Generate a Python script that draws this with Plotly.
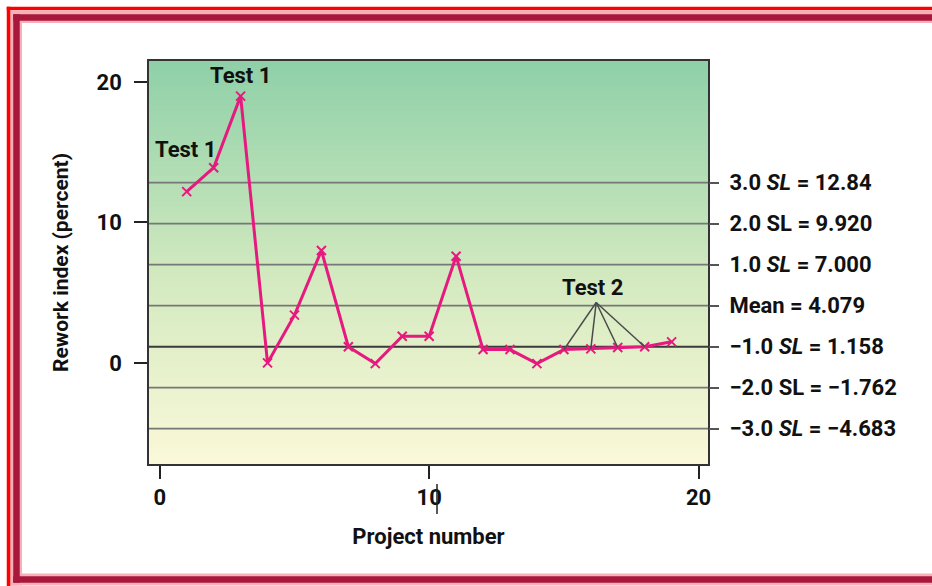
import plotly.graph_objects as go

# ---- data ----
projects = list(range(1, 20))
rework = [12.2, 13.9, 19.0, 0.0, 3.4, 8.0, 1.15, -0.05, 1.9, 1.9, 7.6,
          0.95, 0.95, -0.05, 0.95, 1.0, 1.1, 1.15, 1.5]
sl_values = [12.84, 9.920, 7.000, 4.079, 1.158, -1.762, -4.683]
sl_labels = ["3.0 <i>SL</i> = 12.84", "2.0 SL = 9.920", "1.0 <i>SL</i> = 7.000",
             "Mean = 4.079", "\u22121.0 <i>SL</i> = 1.158", "\u22122.0 SL = \u22121.762",
             "\u22123.0 <i>SL</i> = \u22124.683"]
x_ticks = [0, 10, 20]
y_ticks = [0, 10, 20]
test2_projects = [15, 16, 17, 18]
test2_apex = (16.2, 4.3)

W, H = 932, 586
L, R, T, B = 149, 224, 61, 122
PW, PH = W - L - R, H - T - B
FONT = "Roboto, Liberation Sans, sans-serif"
XR = [-0.4, 20.35]
YR = [-7.2, 21.5]


def px(x):
    return (x - L) / PW


def py(y):
    return (H - B - y) / PH


def lerp(c1, c2, t):
    return tuple(round(a + (b - a) * t) for a, b in zip(c1, c2))


fig = go.Figure()

shapes = []
# gradient background inside plot area
top_c, mid_c, bot_c = (143, 208, 168), (212, 234, 192), (250, 248, 216)
N = 80
for i in range(N):
    t = i / (N - 1)
    c = lerp(top_c, mid_c, t / 0.55) if t < 0.55 else lerp(mid_c, bot_c, (t - 0.55) / 0.45)
    shapes.append(dict(type="rect", xref="x domain", yref="y domain",
                       x0=0, x1=1, y0=1 - (i + 1) / N, y1=min(1, 1 - i / N + 0.002),
                       fillcolor="rgb(%d,%d,%d)" % c, line=dict(width=0), layer="below"))

# SL lines
for v in sl_values:
    dark = abs(v - 1.158) < 1e-6
    shapes.append(dict(type="line", xref="x domain", yref="y", x0=0, x1=1, y0=v, y1=v,
                       line=dict(color="#3a3a3a" if dark else "#777777", width=2 if dark else 1.6),
                       layer="below"))

# Test 2 leader lines
for p in test2_projects:
    shapes.append(dict(type="line", xref="x", yref="y", x0=test2_apex[0], y0=test2_apex[1],
                       x1=p, y1=rework[p - 1], line=dict(color="#4a4a4a", width=1.5)))


# decorative frame (open on the right, as in the cropped original)
def frame_lines(xl, yt, yb, color, width):
    out = [
        dict(type="line", xref="paper", yref="paper", x0=px(xl - width / 2), x1=px(W),
             y0=py(yt), y1=py(yt), line=dict(color=color, width=width)),
        dict(type="line", xref="paper", yref="paper", x0=px(xl), x1=px(xl),
             y0=py(yt - width / 2), y1=py(min(H, yb + width / 2)),
             line=dict(color=color, width=width)),
    ]
    if yb < H:
        out.append(dict(type="line", xref="paper", yref="paper", x0=px(xl - width / 2), x1=px(W),
                        y0=py(yb), y1=py(yb), line=dict(color=color, width=width)))
    return out


shapes += frame_lines(16, 17, 579.5, "#f6b0b8", 12)
shapes += frame_lines(16.5, 17.5, 579.5, "#a8183c", 6.5)
shapes += frame_lines(8.5, 8.5, H, "#ff0000", 3.5)
# keep the right side open (white)
shapes.append(dict(type="rect", xref="paper", yref="paper", x0=px(912), x1=px(W),
                   y0=py(24), y1=py(572), fillcolor="white", line=dict(width=0)))
# stray cursor mark next to "10"
shapes.append(dict(type="line", xref="paper", yref="paper", x0=px(437), x1=px(437),
                   y0=py(484), y1=py(514), line=dict(color="#222", width=1.5)))

fig.add_trace(go.Scatter(
    x=projects, y=rework, mode="lines+markers",
    line=dict(color="#e6197f", width=3),
    marker=dict(symbol="x-thin", size=9, line=dict(color="#e6197f", width=2)),
    showlegend=False, hoverinfo="x+y"))

# invisible trace for right axis
fig.add_trace(go.Scatter(x=[None], y=[None], yaxis="y2", showlegend=False))

tfont = dict(family=FONT, size=22, color="#111111", weight=700)

annotations = [
    dict(x=projects[2], y=rework[2], text="Test 1", showarrow=False, yshift=21,
         font=tfont),
    dict(x=projects[1], y=rework[1], text="Test 1", showarrow=False, xshift=-28, yshift=18,
         font=tfont),
    dict(x=test2_apex[0], y=test2_apex[1], text="Test 2", showarrow=False, xshift=-4,
         yshift=15, font=tfont),
]

fig.update_layout(
    width=W, height=H,
    margin=dict(l=L, r=R, t=T, b=B, pad=0),
    paper_bgcolor="white", plot_bgcolor="rgba(0,0,0,0)",
    font=tfont,
    shapes=shapes, annotations=annotations,
    xaxis=dict(range=XR, tickvals=x_ticks, ticks="outside", ticklen=13, tickwidth=2,
               tickcolor="#222", showline=True, linecolor="#333", linewidth=1.5, mirror=True,
               showgrid=False, zeroline=False, ticklabelstandoff=0,
               tickfont=tfont,
               title=dict(text="Project number", standoff=19, font=tfont)),
    yaxis=dict(range=YR, tickvals=y_ticks, ticks="outside", ticklen=13, tickwidth=2,
               tickcolor="#222", showline=True, linecolor="#333", linewidth=1.5, mirror=True,
               showgrid=False, zeroline=False, ticklabelstandoff=8,
               tickfont=tfont,
               title=dict(text="Rework index (percent)", standoff=22,
                          font=dict(family=FONT, size=21, color="#111111", weight=700))),
    yaxis2=dict(range=YR, overlaying="y", side="right", tickvals=sl_values,
                ticktext=sl_labels, ticks="outside", ticklen=10, tickwidth=1.5,
                tickcolor="#555", showline=False, showgrid=False, zeroline=False,
                ticklabelstandoff=6, tickfont=tfont),
)

fig.write_html("out.html", config={"displayModeBar": False},
               post_script="document.body.style.margin='0';document.body.style.overflow='hidden';")
